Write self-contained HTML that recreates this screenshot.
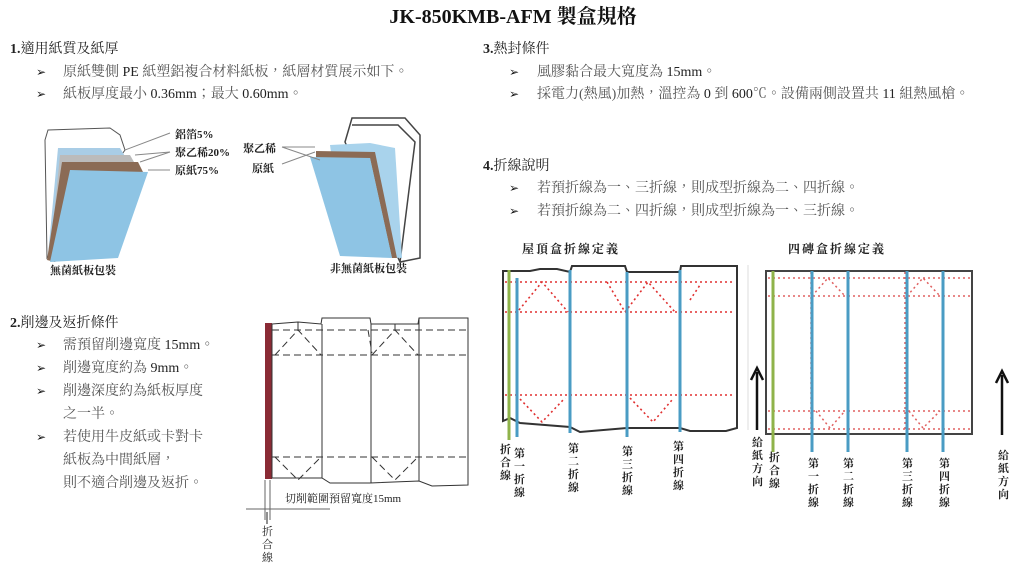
<!DOCTYPE html>
<html><head><meta charset="utf-8"><style>
html,body{margin:0;padding:0;background:#fff}
svg{display:block}
text{font-family:"Liberation Serif","Noto Serif CJK TC","Noto Sans CJK TC",serif}
.b{font-size:14px;fill:#555}
.h{font-size:14px;fill:#222}
.ar{font-size:12px;fill:#111}
.s{font-size:11px;fill:#222;font-weight:bold}
.v{font-size:11px;fill:#222;font-weight:bold}
</style></head><body>
<svg width="1027" height="574" viewBox="0 0 1027 574" xmlns="http://www.w3.org/2000/svg">
<text x="513" y="23" text-anchor="middle" style="font-size:20px;font-weight:bold;fill:#111">JK-850KMB-AFM 製盒規格</text>

<text x="10" y="53" class="h"><tspan font-weight="bold">1.</tspan>適用紙質及紙厚</text>
<text x="36" y="76" class="ar">➢</text><text x="63" y="76" class="b">原紙雙側 <tspan fill="#222">PE</tspan> 紙塑鋁複合材料紙板，紙層材質展示如下。</text>
<text x="36" y="98" class="ar">➢</text><text x="63" y="98" class="b">紙板厚度最小 <tspan fill="#222">0.36mm</tspan>；最大 <tspan fill="#222">0.60mm</tspan>。</text>

<!-- left carton -->
<g>
<path d="M45 140 L48 130 L110 128 L120 135 L125 150 L47 258 Z" fill="#fff" stroke="#555"/>
<path d="M48 255 L58 148 L120 148 L126 158 L52 258 Z" fill="#a9cde6"/>
<path d="M50 256 L60 155 L130 155 L134 162 L55 260 Z" fill="#bbb"/>
<path d="M47 260 L62 162 L138 162 L143 172 L55 262 Z" fill="#8b6b55"/>
<path d="M50 262 L70 170 L148 172 L118 258 Z" fill="#8ec4e4"/>
<line x1="125" y1="150" x2="170" y2="133" stroke="#888"/>
<line x1="135" y1="155" x2="170" y2="152" stroke="#888"/>
<line x1="140" y1="162" x2="170" y2="152" stroke="#888"/>
<line x1="148" y1="170" x2="170" y2="170" stroke="#888"/>
<text x="175" y="138" class="s">鋁箔5%</text>
<text x="175" y="156" class="s">聚乙稀20%</text>
<text x="175" y="174" class="s">原紙75%</text>
<text x="50" y="274" class="s">無菌紙板包裝</text>
</g>
<!-- right carton -->
<g>
<path d="M345 142 L352 118 L405 118 L420 135 L420 258 L400 262 Z" fill="#fff" stroke="#444" stroke-width="1.5"/>
<path d="M352 125 L398 125 L415 142 L400 262" fill="none" stroke="#444" stroke-width="1.5"/>
<path d="M330 145 L370 143 L395 148 L402 258 L345 255 Z" fill="#a9d3ec"/>
<path d="M316 151 L375 152 L397 258 L392 258 L370 158 L316 158 Z" fill="#8b6b55"/>
<path d="M310 157 L370 158 L392 258 L340 256 Z" fill="#8ec4e4"/>
<line x1="282" y1="147" x2="315" y2="147" stroke="#888"/><line x1="282" y1="147" x2="320" y2="160" stroke="#888"/>
<line x1="282" y1="164" x2="315" y2="152" stroke="#888"/>
<text x="243" y="152" class="s">聚乙稀</text>
<text x="252" y="172" class="s">原紙</text>
<text x="330" y="272" class="s">非無菌紙板包裝</text>
</g>

<text x="10" y="327" class="h"><tspan font-weight="bold">2.</tspan>削邊及返折條件</text>
<text x="36" y="349" class="ar">➢</text><text x="63" y="349" class="b">需預留削邊寬度 <tspan fill="#222">15mm</tspan>。</text>
<text x="36" y="372" class="ar">➢</text><text x="63" y="372" class="b">削邊寬度約為 <tspan fill="#222">9mm</tspan>。</text>
<text x="36" y="395" class="ar">➢</text><text x="63" y="395" class="b">削邊深度約為紙板厚度</text>
<text x="63" y="418" class="b">之一半。</text>
<text x="36" y="441" class="ar">➢</text><text x="63" y="441" class="b">若使用牛皮紙或卡對卡</text>
<text x="63" y="464" class="b">紙板為中間紙層，</text>
<text x="63" y="487" class="b">則不適合削邊及返折。</text>

<!-- shaving diagram -->
<g stroke="#333" fill="none" stroke-width="1">
<rect x="265" y="323" width="7" height="156" fill="#8a2b35" stroke="none"/>
<path d="M272 324 L298 322 L321 324 L322 318 L370 318 L371 324 L418 324 L419 318 L468 318 L468 485 L432 486 L419 481 L370 483 L330 483 L322 478 L272 478 Z"/>
<line x1="322" y1="324" x2="322" y2="478"/><line x1="371" y1="324" x2="371" y2="483"/><line x1="419" y1="318" x2="419" y2="481"/>
<g stroke-dasharray="7,4">
<line x1="272" y1="330" x2="468" y2="330"/><line x1="272" y1="355" x2="468" y2="355"/><line x1="272" y1="457" x2="468" y2="457"/>
<path d="M275 355 L298 330 L321 355"/>
<path d="M372 355 L395 330 L418 355"/>
<path d="M368 330 L372 353"/>
<path d="M275 457 L298 480 L321 457"/><path d="M372 457 L395 480 L418 457"/>
</g>
<line x1="298" y1="322" x2="298" y2="330"/><line x1="395" y1="324" x2="395" y2="330"/>
<line x1="246" y1="509" x2="330" y2="509" stroke="#666"/>
<line x1="265" y1="480" x2="265" y2="520" stroke="#666"/><line x1="270" y1="480" x2="270" y2="520" stroke="#666"/>
<line x1="267" y1="512" x2="267" y2="524" stroke="#222"/>
</g>
<text x="285" y="502" style="font-size:11px;fill:#222">切削範圍預留寬度15mm</text>
<text class="v" style="font-weight:normal"><tspan x="262" y="535">折</tspan><tspan x="262" y="548">合</tspan><tspan x="262" y="561">線</tspan></text>

<text x="483" y="53" class="h"><tspan font-weight="bold">3.</tspan>熱封條件</text>
<text x="509" y="76" class="ar">➢</text><text x="537" y="76" class="b">風膠黏合最大寬度為 <tspan fill="#222">15mm</tspan>。</text>
<text x="509" y="98" class="ar">➢</text><text x="537" y="98" class="b">採電力(熱風)加熱，溫控為 <tspan fill="#222">0</tspan> 到 <tspan fill="#222">600</tspan>℃。設備兩側設置共 <tspan fill="#222">11</tspan> 組熱風槍。</text>
<text x="483" y="170" class="h"><tspan font-weight="bold">4.</tspan>折線說明</text>
<text x="509" y="192" class="ar">➢</text><text x="537" y="192" class="b">若預折線為一、三折線，則成型折線為二、四折線。</text>
<text x="509" y="215" class="ar">➢</text><text x="537" y="215" class="b">若預折線為二、四折線，則成型折線為一、三折線。</text>

<text x="522" y="253" class="v" style="font-size:12px;letter-spacing:2px">屋頂盒折線定義</text>
<text x="788" y="253" class="v" style="font-size:12px;letter-spacing:2px">四磚盒折線定義</text>

<!-- roof box -->
<g fill="none">
<path d="M503 421 L503 271 L530 271 L540 269 L557 269 L570 272 L572 266 L625 266 L627 272 L680 272 L681 266 L737 266 L737 428 L726 431 L690 431 L680 428 L627 428 L580 432 L570 427 L520 423 L510 418 Z" stroke="#333" stroke-width="2"/>
<g stroke="#e03030" stroke-width="1.6" stroke-dasharray="2,3">
<line x1="505" y1="282" x2="735" y2="282"/><line x1="505" y1="312" x2="735" y2="312"/><line x1="505" y1="395" x2="735" y2="395"/>
<path d="M519 310 L542 282 L568 312"/><path d="M607 282 L625 312 L648 282 L675 312"/><path d="M690 300 L700 285"/>
<path d="M520 399 L542 422 L565 398"/><path d="M630 398 L653 422 L672 400"/>
</g>
<line x1="509" y1="270" x2="509" y2="440" stroke="#8fb34a" stroke-width="3"/>
<g stroke="#4a9cc4" stroke-width="3">
<line x1="517" y1="278" x2="517" y2="437"/><line x1="570" y1="270" x2="570" y2="433"/><line x1="627" y1="272" x2="627" y2="437"/><line x1="680" y1="270" x2="680" y2="432"/>
</g>
</g>
<text class="v"><tspan x="500" y="453">折</tspan><tspan x="500" y="466">合</tspan><tspan x="500" y="479">線</tspan></text>
<text class="v"><tspan x="514" y="457">第</tspan><tspan x="514" y="470">一</tspan><tspan x="514" y="483">折</tspan><tspan x="514" y="496">線</tspan></text>
<text class="v"><tspan x="568" y="452">第</tspan><tspan x="568" y="465">二</tspan><tspan x="568" y="478">折</tspan><tspan x="568" y="491">線</tspan></text>
<text class="v"><tspan x="622" y="455">第</tspan><tspan x="622" y="468">三</tspan><tspan x="622" y="481">折</tspan><tspan x="622" y="494">線</tspan></text>
<text class="v"><tspan x="673" y="450">第</tspan><tspan x="673" y="463">四</tspan><tspan x="673" y="476">折</tspan><tspan x="673" y="489">線</tspan></text>

<!-- brick box -->
<g fill="none">
<line x1="748" y1="265" x2="748" y2="430" stroke="#ddd"/>
<rect x="766" y="271" width="206" height="163" stroke="#444" stroke-width="2"/>
<g stroke="#e06060" stroke-width="1.5" stroke-dasharray="2,3">
<line x1="768" y1="278" x2="970" y2="278"/><line x1="768" y1="296" x2="970" y2="296"/><line x1="768" y1="411" x2="970" y2="411"/><line x1="768" y1="429" x2="970" y2="429"/>
<path d="M812 296 L828 278 L845 296"/><path d="M907 296 L923 278 L940 296"/>
<path d="M816 411 L830 428 L845 411"/><path d="M909 411 L923 428 L940 411"/>
<line x1="811" y1="272" x2="811" y2="432"/><line x1="905" y1="272" x2="905" y2="432"/>
</g>
<line x1="773" y1="271" x2="773" y2="452" stroke="#8fb34a" stroke-width="3"/>
<g stroke="#4a9cc4" stroke-width="3">
<line x1="812" y1="271" x2="812" y2="452"/><line x1="848" y1="271" x2="848" y2="452"/><line x1="907" y1="271" x2="907" y2="452"/><line x1="943" y1="271" x2="943" y2="452"/>
</g>
<line x1="757" y1="430" x2="757" y2="372" stroke="#111" stroke-width="2.5"/>
<path d="M751 380 L757 368 L763 380" stroke="#111" stroke-width="2.5"/>
<line x1="1002" y1="435" x2="1002" y2="375" stroke="#111" stroke-width="2.5"/>
<path d="M996 383 L1002 371 L1008 383" stroke="#111" stroke-width="2.5"/>
</g>
<text class="v"><tspan x="752" y="446">給</tspan><tspan x="752" y="459">紙</tspan><tspan x="752" y="472">方</tspan><tspan x="752" y="485">向</tspan></text>
<text class="v"><tspan x="769" y="461">折</tspan><tspan x="769" y="474">合</tspan><tspan x="769" y="487">線</tspan></text>
<text class="v"><tspan x="808" y="467">第</tspan><tspan x="808" y="480">一</tspan><tspan x="808" y="493">折</tspan><tspan x="808" y="506">線</tspan></text>
<text class="v"><tspan x="843" y="467">第</tspan><tspan x="843" y="480">二</tspan><tspan x="843" y="493">折</tspan><tspan x="843" y="506">線</tspan></text>
<text class="v"><tspan x="902" y="467">第</tspan><tspan x="902" y="480">三</tspan><tspan x="902" y="493">折</tspan><tspan x="902" y="506">線</tspan></text>
<text class="v"><tspan x="939" y="467">第</tspan><tspan x="939" y="480">四</tspan><tspan x="939" y="493">折</tspan><tspan x="939" y="506">線</tspan></text>
<text class="v"><tspan x="998" y="459">給</tspan><tspan x="998" y="472">紙</tspan><tspan x="998" y="485">方</tspan><tspan x="998" y="498">向</tspan></text>
</svg>
</body></html>
